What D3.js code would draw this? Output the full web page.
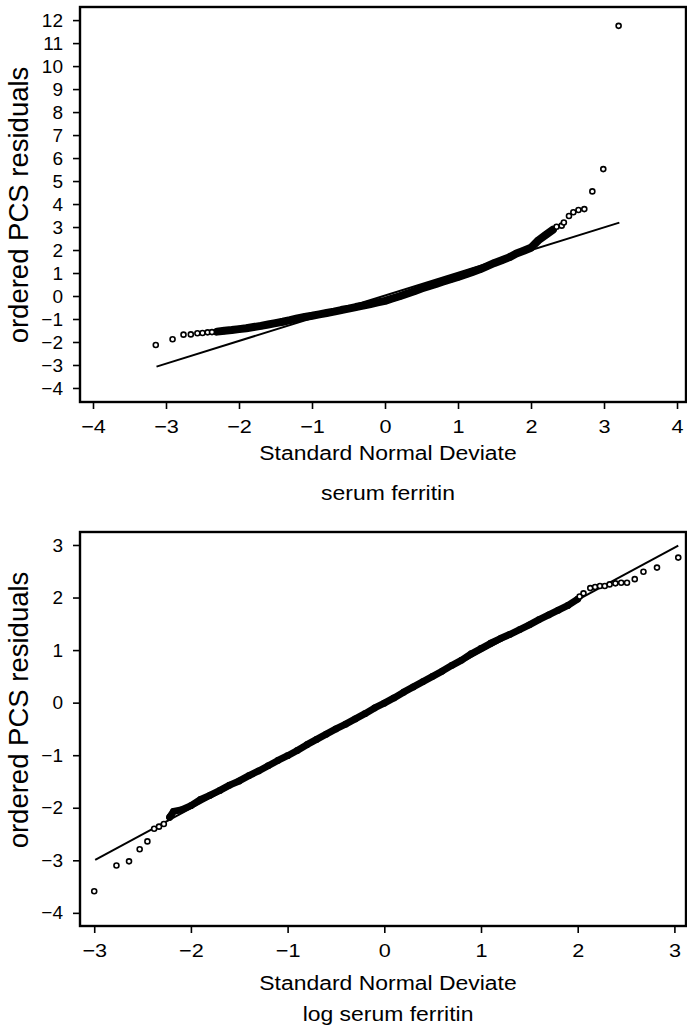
<!DOCTYPE html>
<html>
<head>
<meta charset="utf-8">
<script src="https://cdn.jsdelivr.net/npm/d3@7"></script>
<style>
body { margin: 0; background: #fff; }
</style>
</head>
<body>
<script>
const width = 687;
const height = 1031;
const fontFamily = "'Liberation Sans', Arial, Helvetica, sans-serif";
const tickFont = 19;
const titleFont = 19.6;
const yLabelFont = 27.5;
// the printed figure is a little wider than tall, lettering included
const stretch = 1.17;

// ---- top panel: serum ferritin ----
const topXTicks = [-4, -3, -2, -1, 0, 1, 2, 3, 4];
const topYTicks = [-4, -3, -2, -1, 0, 1, 2, 3, 4, 5, 6, 7, 8, 9, 10, 11, 12];

// isolated points in the tails
const topTailX = [-3.14, -2.91, -2.76, -2.66, -2.57, -2.50, -2.43, -2.37,
    2.35, 2.42, 2.45, 2.52, 2.58, 2.65, 2.73, 2.84, 2.99, 3.20];
const topTailY = [-2.13, -1.88, -1.68, -1.67, -1.62, -1.61, -1.58, -1.57,
    3.01, 3.06, 3.20, 3.48, 3.64, 3.74, 3.78, 4.55, 5.52, 11.75];

// the dense run of points, read along its middle
const topBandX = [-2.30, -2.20, -2.10, -2.00, -1.90, -1.80, -1.70, -1.60, -1.50, -1.40,
    -1.30, -1.20, -1.10, -1.00, -0.90, -0.80, -0.70, -0.60, -0.50, -0.40,
    -0.30, -0.20, -0.10, 0.00, 0.10, 0.20, 0.30, 0.40, 0.50, 0.60,
    0.70, 0.80, 0.90, 1.00, 1.10, 1.20, 1.30, 1.40, 1.50, 1.60,
    1.70, 1.80, 1.90, 2.00, 2.10, 2.20, 2.30];
const topBandY = [-1.55, -1.51, -1.48, -1.44, -1.40, -1.35, -1.30, -1.24, -1.18, -1.12,
    -1.05, -0.97, -0.91, -0.86, -0.80, -0.74, -0.68, -0.61, -0.55, -0.48,
    -0.42, -0.35, -0.28, -0.21, -0.11, -0.01, 0.10, 0.21, 0.33, 0.43,
    0.53, 0.63, 0.73, 0.83, 0.94, 1.05, 1.16, 1.30, 1.44, 1.56,
    1.68, 1.85, 1.97, 2.10, 2.42, 2.65, 2.88];

const topLineX = [-3.13, 3.21];
const topLineY = [-3.07, 3.19];

// ---- bottom panel: log serum ferritin ----
const bottomXTicks = [-3, -2, -1, 0, 1, 2, 3];
const bottomYTicks = [-4, -3, -2, -1, 0, 1, 2, 3];

const bottomTailX = [-3.00, -2.77, -2.64, -2.53, -2.45, -2.38, -2.33, -2.28,
    2.02, 2.06, 2.13, 2.18, 2.23, 2.28, 2.33, 2.39, 2.45, 2.51, 2.59, 2.68, 2.82, 3.04];
const bottomTailY = [-3.59, -3.10, -3.02, -2.79, -2.64, -2.40, -2.36, -2.31,
    2.02, 2.08, 2.18, 2.20, 2.22, 2.22, 2.25, 2.27, 2.28, 2.28, 2.35, 2.49, 2.57, 2.76];

const bottomBandX = [-2.22, -2.18, -2.10, -2.00, -1.90, -1.80, -1.70, -1.60, -1.50, -1.40,
    -1.30, -1.20, -1.10, -1.00, -0.90, -0.80, -0.70, -0.60, -0.50, -0.40,
    -0.30, -0.20, -0.10, 0.00, 0.10, 0.20, 0.30, 0.40, 0.50, 0.60,
    0.70, 0.80, 0.90, 1.00, 1.10, 1.20, 1.30, 1.40, 1.50, 1.60,
    1.70, 1.80, 1.90, 2.00];
const bottomBandY = [-2.18, -2.07, -2.04, -1.96, -1.84, -1.76, -1.67, -1.57, -1.49, -1.39,
    -1.30, -1.20, -1.10, -1.01, -0.91, -0.80, -0.70, -0.60, -0.50, -0.41,
    -0.31, -0.21, -0.10, -0.01, 0.09, 0.20, 0.30, 0.40, 0.50, 0.60,
    0.71, 0.81, 0.93, 1.03, 1.13, 1.22, 1.30, 1.39, 1.48, 1.58,
    1.67, 1.76, 1.85, 1.97];

const bottomLineX = [-2.99, 3.04];
const bottomLineY = [-2.99, 2.99];

const svg = d3.select("body")
    .append("svg")
    .attr("width", width)
    .attr("height", height)
    .style("background", "#fff");

function drawPanel(p) {
    const x = d3.scaleLinear().domain(p.xDomain).range([p.left, p.right]);
    const y = d3.scaleLinear().domain(p.yDomain).range([p.bottom, p.top]);
    const g = svg.append("g");

    // axes
    const xAxis = g.append("g")
        .attr("transform", `translate(0,${p.bottom})`)
        .call(d3.axisBottom(x).tickValues(p.xTicks).tickFormat(d3.format("d"))
            .tickSize(7).tickSizeOuter(0).tickPadding(11));
    const yAxis = g.append("g")
        .attr("transform", `translate(${p.left},0)`)
        .call(d3.axisLeft(y).tickValues(p.yTicks).tickFormat(d3.format("d"))
            .tickSize(7).tickSizeOuter(0).tickPadding(10));
    [xAxis, yAxis].forEach(a => {
        a.select(".domain").remove();
        a.attr("font-size", tickFont).attr("font-family", fontFamily);
        a.selectAll(".tick line").attr("stroke", "#000").attr("stroke-width", 1.6);
        a.selectAll(".tick text").attr("fill", "#000");
    });
    xAxis.selectAll(".tick text")
        .attr("font-size", 18.5)
        .attr("transform", `scale(${stretch},1)`);

    // frame
    g.append("rect")
        .attr("x", p.left)
        .attr("y", p.top)
        .attr("width", p.right - p.left)
        .attr("height", p.bottom - p.top)
        .attr("fill", "none")
        .attr("stroke", "#000")
        .attr("stroke-width", 2.4);

    // reference line
    const line = d3.line().x(d => x(d[0])).y(d => y(d[1]));
    g.append("path")
        .attr("d", line(d3.zip(p.lineX, p.lineY)))
        .attr("fill", "none")
        .attr("stroke", "#000")
        .attr("stroke-width", 2);

    // dense part of the plot, points so packed they form a band
    const band = d3.zip(p.bandX, p.bandY);
    g.append("path")
        .attr("d", line(band))
        .attr("fill", "none")
        .attr("stroke", "#000")
        .attr("stroke-width", p.bandWidth)
        .attr("stroke-linecap", "round")
        .attr("stroke-linejoin", "round");
    g.selectAll(".band-pt")
        .data(band)
        .enter()
        .append("circle")
        .attr("class", "band-pt")
        .attr("cx", d => x(d[0]))
        .attr("cy", d => y(d[1]))
        .attr("r", 2.6)
        .attr("fill", "#000")
        .attr("stroke", "#000")
        .attr("stroke-width", 1.6);

    // separate circles in the tails
    g.selectAll(".tail-pt")
        .data(d3.zip(p.tailX, p.tailY))
        .enter()
        .append("circle")
        .attr("class", "tail-pt")
        .attr("cx", d => x(d[0]))
        .attr("cy", d => y(d[1]))
        .attr("r", 2.5)
        .attr("fill", "#fff")
        .attr("stroke", "#000")
        .attr("stroke-width", 1.6);

    // titles
    const cx = 388;
    [[p.titleY[0], "Standard Normal Deviate"], [p.titleY[1], p.subtitle]].forEach(([ty, txt]) => {
        g.append("text")
            .attr("transform", `translate(${cx},${ty}) scale(${stretch},1)`)
            .attr("text-anchor", "middle")
            .attr("font-family", fontFamily)
            .attr("font-size", titleFont)
            .text(txt);
    });
    g.append("text")
        .attr("transform", `translate(28,${p.yLabelCenter}) rotate(-90)`)
        .attr("text-anchor", "middle")
        .attr("font-family", fontFamily)
        .attr("font-size", yLabelFont)
        .text("ordered PCS residuals");
}

drawPanel({
    left: 80, right: 686, top: 7, bottom: 402,
    xDomain: [-4.178, 4.123], yDomain: [-4.61, 12.57],
    xTicks: topXTicks, yTicks: topYTicks,
    tailX: topTailX, tailY: topTailY,
    bandX: topBandX, bandY: topBandY,
    lineX: topLineX, lineY: topLineY,
    bandWidth: 8,
    titleY: [460, 500],
    subtitle: "serum ferritin",
    yLabelCenter: 205
});

drawPanel({
    left: 80, right: 686, top: 532, bottom: 926,
    xDomain: [-3.147, 3.12], yDomain: [-4.25, 3.247],
    xTicks: bottomXTicks, yTicks: bottomYTicks,
    tailX: bottomTailX, tailY: bottomTailY,
    bandX: bottomBandX, bandY: bottomBandY,
    lineX: bottomLineX, lineY: bottomLineY,
    bandWidth: 7,
    titleY: [990, 1021],
    subtitle: "log serum ferritin",
    yLabelCenter: 710
});
</script>
</body>
</html>
